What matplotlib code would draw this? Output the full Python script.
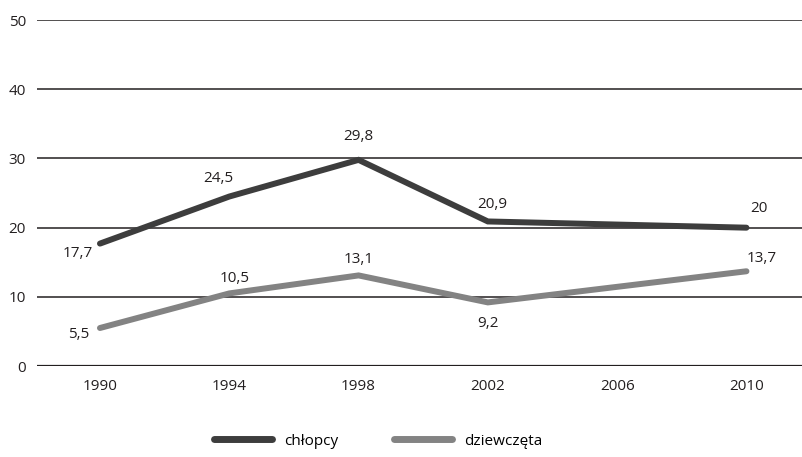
import matplotlib.pyplot as plt

# data
years = [1990, 1994, 1998, 2002, 2006, 2010]
data_years = [1990, 1994, 1998, 2002, 2010]
chlopcy = [17.7, 24.5, 29.8, 20.9, 20.0]
dziewczeta = [5.5, 10.5, 13.1, 9.2, 13.7]
label_chlopcy = ["17,7", "24,5", "29,8", "20,9", "20"]
label_dziewczeta = ["5,5", "10,5", "13,1", "9,2", "13,7"]

plt.rcParams['font.family'] = ['Open Sans', 'DejaVu Sans']

fig = plt.figure(figsize=(8.03, 4.57), dpi=100)
ax = fig.add_axes([0.046, 0.199, 0.954, 0.757])

for y in range(0, 51, 10):
    ax.axhline(y, color='#231f20', lw=1.6 if y == 0 else 1.1, zorder=1)

ax.plot(data_years, chlopcy, color='#3d3d3d', lw=4.3, solid_capstyle='round',
        solid_joinstyle='miter', label='chłopcy', zorder=3)
ax.plot(data_years, dziewczeta, color='#838383', lw=4.3, solid_capstyle='round',
        solid_joinstyle='miter', label='dziewczęta', zorder=3)

# point labels (offsets in points)
off_ch = [(-16, -7), (-8, 13), (0, 17), (3, 12), (9, 14)]
off_dz = [(-15, -5), (4, 11), (0, 11.5), (0, -15), (11, 9.5)]
for x, v, t, o in zip(data_years, chlopcy, label_chlopcy, off_ch):
    ax.annotate(t, (x, v), xytext=o, textcoords='offset points',
                ha='center', va='center', fontsize=11, color='#231f20')
for x, v, t, o in zip(data_years, dziewczeta, label_dziewczeta, off_dz):
    ax.annotate(t, (x, v), xytext=o, textcoords='offset points',
                ha='center', va='center', fontsize=11, color='#231f20')

ax.set_xlim(1988.05, 2011.75)
ax.set_ylim(0, 50)
ax.set_xticks(years)
ax.set_xticklabels([str(y) for y in years])
ax.set_yticks(range(0, 51, 10))
ax.tick_params(length=0, labelsize=11, colors='#231f20')
ax.tick_params(axis='x', pad=9)
ax.tick_params(axis='y', pad=8)
for s in ax.spines.values():
    s.set_visible(False)

leg = fig.legend(loc='lower center', bbox_to_anchor=(0.471, -0.012), ncol=2,
                 frameon=False, fontsize=11, handlelength=3.8,
                 columnspacing=3.6, handletextpad=0.8)
for line in leg.get_lines():
    line.set_linewidth(5)

fig.savefig('out.png', dpi=100)
